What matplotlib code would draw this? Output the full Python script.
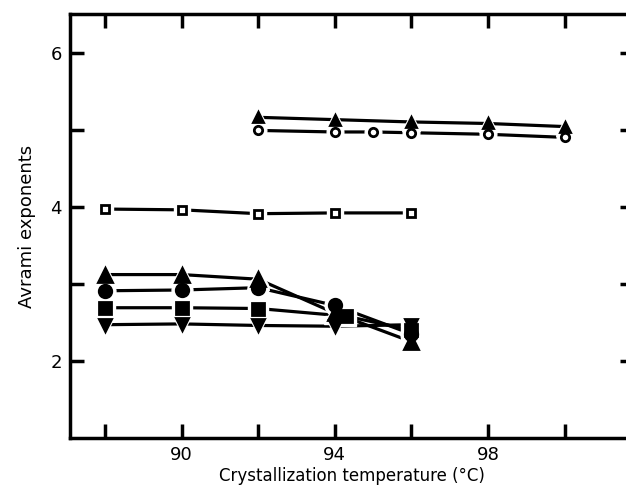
import matplotlib.pyplot as plt
import numpy as np

# upper group
t_up = [92, 94, 96, 98, 100]
n_tri_up = [5.16, 5.13, 5.10, 5.08, 5.04]
t_circ_open = [92, 94, 95, 96, 98, 100]
n_circ_open = [4.99, 4.97, 4.97, 4.96, 4.94, 4.90]
t_sq_open = [88, 90, 92, 94, 96]
n_sq_open = [3.97, 3.96, 3.91, 3.92, 3.92]

# lower group
t_low = [88, 90, 92, 94, 96]
n_tri = [3.12, 3.12, 3.06, 2.62, 2.25]
n_circ = [2.91, 2.92, 2.95, 2.72, 2.35]
t_sq = [88, 90, 92, 94.3, 96]
n_sq = [2.69, 2.69, 2.68, 2.58, 2.40]
n_dtri = [2.47, 2.48, 2.46, 2.45, 2.47]

fig = plt.figure(figsize=(6.26, 4.87), dpi=100)
ax = fig.add_axes([0.112, 0.1006, 0.90, 0.8706])

# x, y, marker, face colour, marker size
series = [
    (t_up, n_tri_up, '^', 'k', 7.5),
    (t_circ_open, n_circ_open, 'o', 'w', 6),
    (t_sq_open, n_sq_open, 's', 'w', 6),
    (t_low, n_tri, '^', 'k', 9.5),
    (t_low, n_circ, 'o', 'k', 9),
    (t_sq, n_sq, 's', 'k', 8),
    (t_low, n_dtri, 'v', 'k', 8.5),
]

for x, y, m, fc, ms in series:
    ax.plot(x, y, '-', color='k', lw=2.3, zorder=2)
# white halo so the lines stop short of the symbols
for x, y, m, fc, ms in series:
    ax.plot(x, y, ls='none', marker=m, ms=ms + 6, color='w', zorder=3)
for x, y, m, fc, ms in series:
    ax.plot(x, y, ls='none', marker=m, ms=ms, mfc=fc, mec='k', mew=2, zorder=4)

ax.set_xlim(87.09, 101.8)
ax.set_ylim(1.0, 6.5)
ax.set_xticks(np.arange(88, 101, 2))
ax.set_xticklabels(['', '90', '', '94', '', '98', ''])
ax.set_yticks(np.arange(2, 7, 1))
ax.set_yticklabels(['2', '', '4', '', '6'])
ax.tick_params(direction='in', length=10, width=2.5, labelsize=13,
               top=True, right=True, pad=6)
for s in ['left', 'bottom', 'top']:
    ax.spines[s].set_linewidth(2.5)
ax.spines['right'].set_visible(False)

ax.set_xlabel('Crystallization temperature (°C)', fontsize=12, labelpad=2)
ax.set_ylabel('Avrami exponents', fontsize=13, labelpad=10)

fig.savefig('out.png', dpi=100)
